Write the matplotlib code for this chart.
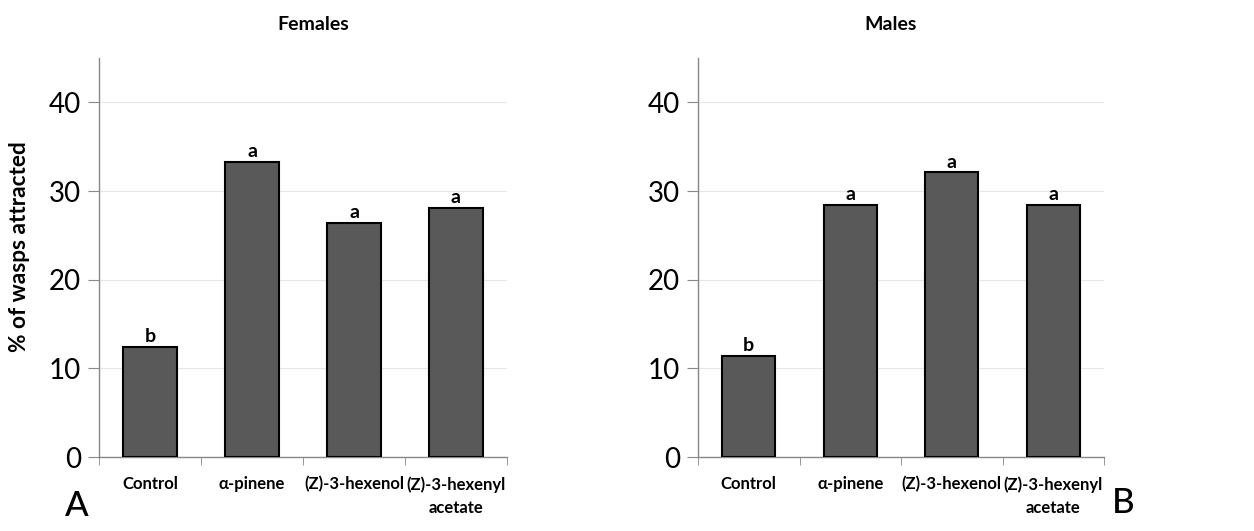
import matplotlib
matplotlib.use("Agg")
import matplotlib.pyplot as plt
import numpy as np

categories = ["Control", "α-pinene", "(Z)-3-hexenol", "(Z)-3-hexenyl\nacetate"]
females = [12.4, 33.3, 26.4, 28.1]
males = [11.4, 28.4, 32.1, 28.4]
letters_f = ["b", "a", "a", "a"]
letters_m = ["b", "a", "a", "a"]
yticks = [0, 10, 20, 30, 40]

plt.rcParams['font.family'] = ['Lato', 'DejaVu Sans']

fig = plt.figure(figsize=(12.54, 5.31), dpi=100)
axL = fig.add_axes([99/1254, 1-457/531, 408/1254, 399/531])
axR = fig.add_axes([698/1254, 1-457/531, 406/1254, 399/531])

def style(ax, vals, letters):
    x = np.arange(len(categories))
    ax.bar(x, vals, width=0.52, color="#595959", edgecolor="black", linewidth=1.5, zorder=3)
    for xi, v, l in zip(x, vals, letters):
        ax.text(xi, v + 0.2, l, ha="center", va="bottom", fontsize=14, fontweight="bold")
    ax.set_xlim(-0.5, len(categories) - 0.5)
    ax.set_ylim(0, 45)
    ax.set_yticks(yticks)
    ax.set_yticklabels([str(t) for t in yticks], fontsize=20)
    ax.set_xticks(x)
    ax.set_xticklabels(categories, fontsize=12, fontweight="bold", linespacing=1.55)
    ax.set_xticks(np.arange(len(categories) + 1) - 0.5, minor=True)
    ax.tick_params(axis="x", which="major", length=0, pad=14)
    ax.tick_params(axis="x", which="minor", length=6, color="#888888")
    ax.tick_params(axis="y", length=8, color="#888888", pad=5)
    for s in ["top", "right"]:
        ax.spines[s].set_visible(False)
    for s in ["left", "bottom"]:
        ax.spines[s].set_color("#888888")
        ax.spines[s].set_linewidth(1.0)
    ax.yaxis.grid(True, color="#e6e6e6", linewidth=0.8, zorder=0)
    ax.set_axisbelow(True)

style(axL, females, letters_f)
style(axR, males, letters_m)

fig.text(313/1254, 1-25/531, "Females", ha="center", va="center", fontsize=14, fontweight="bold")
fig.text(891/1254, 1-25/531, "Males", ha="center", va="center", fontsize=14, fontweight="bold")
fig.text(20/1254, 1-247/531, "% of wasps attracted", rotation=90, ha="center", va="center",
         fontsize=16.3, fontweight="bold")
fig.text(77/1254, 1-506/531, "A", ha="center", va="center", fontsize=25, fontweight="medium")
fig.text(1123/1254, 1-503/531, "B", ha="center", va="center", fontsize=25, fontweight="medium")

fig.savefig("out.png", dpi=100)
